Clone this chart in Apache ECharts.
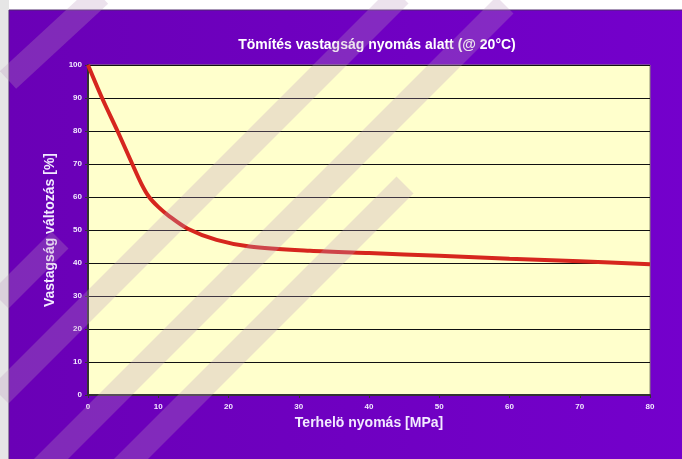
<!DOCTYPE html>
<html>
<head>
<meta charset="utf-8">
<script src="https://cdn.jsdelivr.net/npm/echarts@6/dist/echarts.min.js"></script>
<style>
  html, body { margin: 0; padding: 0; background: #fff; }
  #chart { width: 682px; height: 459px; }
</style>
</head>
<body>
<div id="chart"></div>
<script>
  // values
  const pressure = [0, 2, 4.2, 6.3, 7.6, 8.7, 10, 11.5, 14.2, 18.3, 23, 31.6, 40, 50, 60, 70, 80]
  const thickness = [100, 90, 80, 70, 64, 60, 57, 54.3, 50.4, 47, 45, 43.7, 43, 42.2, 41.3, 40.5, 39.6]
  const xTicks = [0, 10, 20, 30, 40, 50, 60, 70, 80]
  const yTicks = [0, 10, 20, 30, 40, 50, 60, 70, 80, 90, 100]

  const FONT = 'Liberation Sans, Arial, sans-serif'
  const LABEL_COLOR = '#F2EAFF'

  // watermark bands (decoration only)
  const BANDS = [
    [[8, 80], [100, -5]],
    [[0, 395], [400, -5]],
    [[40, 470], [505, 5]],
    [[120, 470], [405, 185]],
    [[0, 300], [60, 240]]
  ]

  let chart = echarts.init(document.getElementById('chart'))
  let seriesData = pressure.map((p, i) => [p, thickness[i]])

  let bandGraphics = BANDS.map((b) => ({
    type: 'line',
    z: 100,
    silent: true,
    shape: {x1: b[0][0], y1: b[0][1], x2: b[1][0], y2: b[1][1]},
    style: {stroke: 'rgba(185,150,190,0.28)', lineWidth: 24}
  }))

  chart.setOption({
    animation: false,
    backgroundColor: '#ffffff',
    graphic: [
      {
        type: 'rect',
        z: -10,
        shape: {x: 0, y: 0, width: 9, height: 459},
        style: {fill: '#e6e6e6'}
      },
      {
        type: 'rect',
        z: -10,
        shape: {x: 9, y: 10, width: 680, height: 455},
        style: {
          fill: {
            type: 'linear', x: 0, y: 0, x2: 1, y2: 0,
            colorStops: [
              {offset: 0, color: '#6a00b6'},
              {offset: 1, color: '#7400cc'}
            ]
          },
          stroke: '#4e2a6e',
          lineWidth: 1
        }
      },
      ...bandGraphics,
      {
        type: 'text',
        z: 50,
        style: {
          x: 377,
          y: 45,
          text: 'Tömítés vastagság nyomás alatt (@ 20°C)',
          fill: '#ffffff',
          font: 'bold 14px ' + FONT,
          textAlign: 'center',
          textVerticalAlign: 'middle'
        }
      }
    ],
    grid: {
      left: 88,
      right: 32,
      top: 65,
      bottom: 64,
      show: true,
      backgroundColor: '#ffffcc',
      borderColor: '#8a8a70',
      borderWidth: 1
    },
    xAxis: {
      type: 'value',
      min: 0,
      max: 80,
      interval: 10,
      name: 'Terhelö nyomás [MPa]',
      nameLocation: 'middle',
      nameGap: 19,
      nameTextStyle: {color: LABEL_COLOR, fontFamily: FONT, fontWeight: 'bold', fontSize: 14},
      axisLine: {show: true, lineStyle: {color: '#333333', width: 2}},
      axisTick: {show: true, length: 3, lineStyle: {color: '#333333'}},
      axisLabel: {
        color: LABEL_COLOR, fontFamily: FONT, fontWeight: 'bold', fontSize: 8, margin: 8,
        formatter: (v) => xTicks.includes(v) ? String(v) : ''
      },
      splitLine: {show: false}
    },
    yAxis: {
      type: 'value',
      min: 0,
      max: 100,
      interval: 10,
      name: 'Vastagság változás [%]',
      nameLocation: 'middle',
      nameGap: 31,
      nameTextStyle: {color: LABEL_COLOR, fontFamily: FONT, fontWeight: 'bold', fontSize: 14},
      axisLine: {show: true, lineStyle: {color: '#333333', width: 2}},
      axisTick: {show: true, length: 3, lineStyle: {color: '#333333'}},
      axisLabel: {
        color: LABEL_COLOR, fontFamily: FONT, fontWeight: 'bold', fontSize: 8, margin: 6,
        formatter: (v) => yTicks.includes(v) ? String(v) : ''
      },
      splitLine: {show: true, lineStyle: {color: '#111111', width: 1}}
    },
    series: [
      {
        type: 'line',
        data: seriesData,
        smooth: 0.3,
        symbol: 'none',
        z: 5,
        lineStyle: {color: '#d6261e', width: 4}
      }
    ]
  })
</script>
</body>
</html>
